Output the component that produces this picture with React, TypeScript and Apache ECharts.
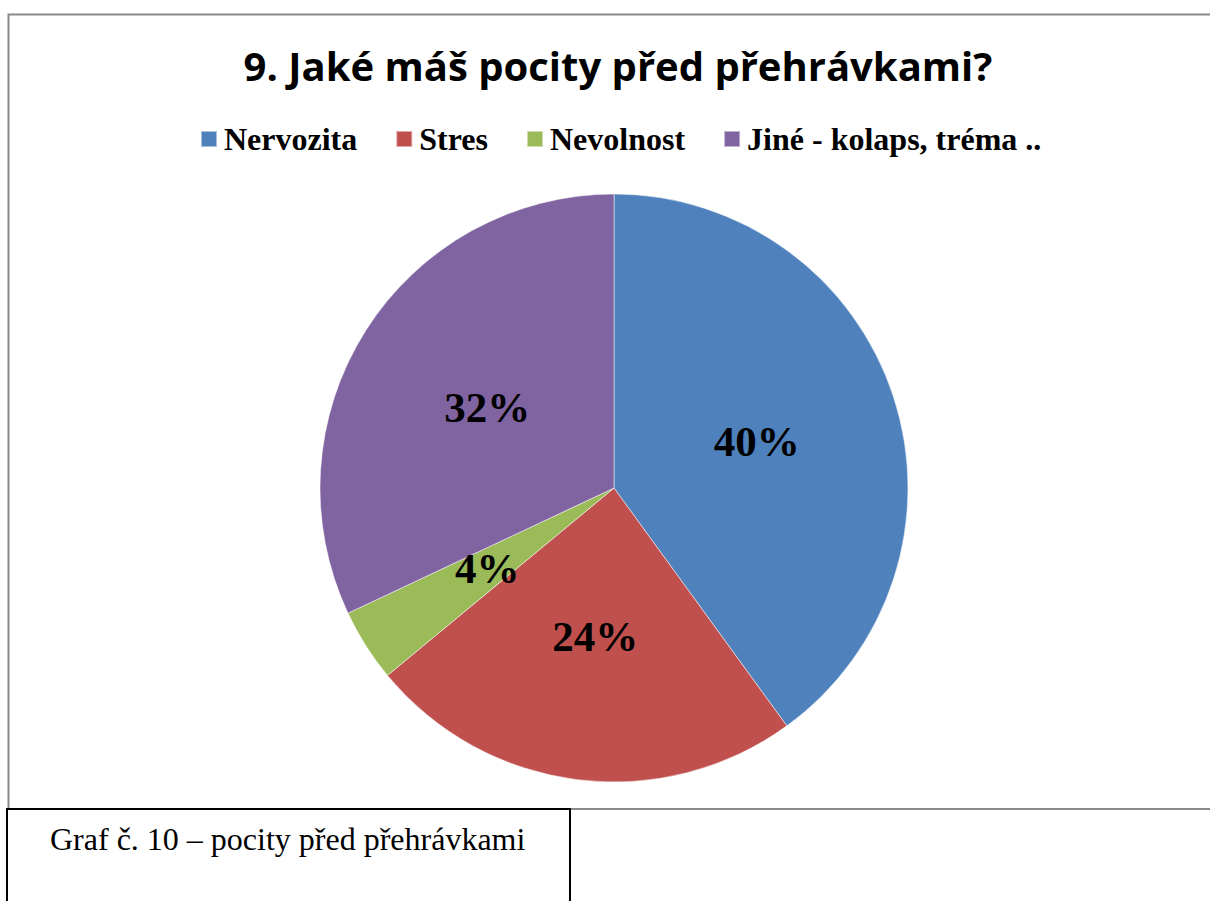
import React, { useEffect, useRef } from "react";
import * as echarts from "echarts";

const categories = ["Nervozita", "Stres", "Nevolnost", "Jiné - kolaps, tréma .."];
const values = [40, 24, 4, 32];
const colors = ["#4F81BD", "#C0504D", "#9BBB59", "#8064A2"];
const titleText = "9. Jaké máš pocity před přehrávkami?";
const captionText = "Graf č. 10 – pocity před přehrávkami";

export default function App() {
  const ref = useRef<HTMLDivElement>(null);
  useEffect(() => {
    if (!ref.current) return;
    const chart = echarts.init(ref.current, null, { renderer: "svg" });
    chart.setOption({
      animation: false,
      backgroundColor: "#ffffff",
      color: colors,
      title: {
        text: titleText,
        left: 613,
        textAlign: "center",
        top: 40,
        textStyle: {
          fontFamily: "Open Sans",
          fontWeight: "bold",
          fontSize: 40,
          color: "#000",
        },
      },
      legend: {
        data: categories,
        left: 200,
        top: 123,
        padding: 0,
        icon: "rect",
        itemWidth: 16,
        itemHeight: 16,
        itemGap: 38,
        textStyle: {
          fontFamily: "Liberation Serif",
          fontWeight: "bold",
          fontSize: 32,
          color: "#000",
          padding: [0, 0, 0, 2],
        },
      },
      graphic: [
        {
          type: "rect",
          z: -10,
          shape: { x: 8.5, y: 14.5, width: 1300, height: 794.5 },
          style: { fill: "none", stroke: "#8a8a8a", lineWidth: 2 },
        },
        {
          type: "rect",
          z: 10,
          shape: { x: 7, y: 809, width: 563, height: 120 },
          style: { fill: "#ffffff", stroke: "#000", lineWidth: 2 },
        },
        {
          type: "text",
          z: 11,
          x: 50,
          y: 839,
          style: {
            text: captionText,
            fontFamily: "Liberation Serif",
            fontSize: 32,
            fill: "#000",
            verticalAlign: "middle",
          },
        },
      ],
      series: [
        {
          type: "pie",
          center: [614, 488],
          radius: 294,
          startAngle: 90,
          clockwise: true,
          data: categories.map((c, i) => ({ name: c, value: values[i] })),
          itemStyle: { borderColor: "rgba(255,255,255,0.5)", borderWidth: 1 },
          label: {
            position: "inside",
            formatter: "{d}%",
            fontFamily: "Liberation Serif",
            fontWeight: "bold",
            fontSize: 43,
            color: "#000",
          },
          labelLine: { show: false },
          emphasis: { disabled: true },
        },
      ],
    });
    return () => chart.dispose();
  }, []);
  return (
    <div
      ref={ref}
      style={{ position: "absolute", left: 0, top: 0, width: 1210, height: 901 }}
    />
  );
}
